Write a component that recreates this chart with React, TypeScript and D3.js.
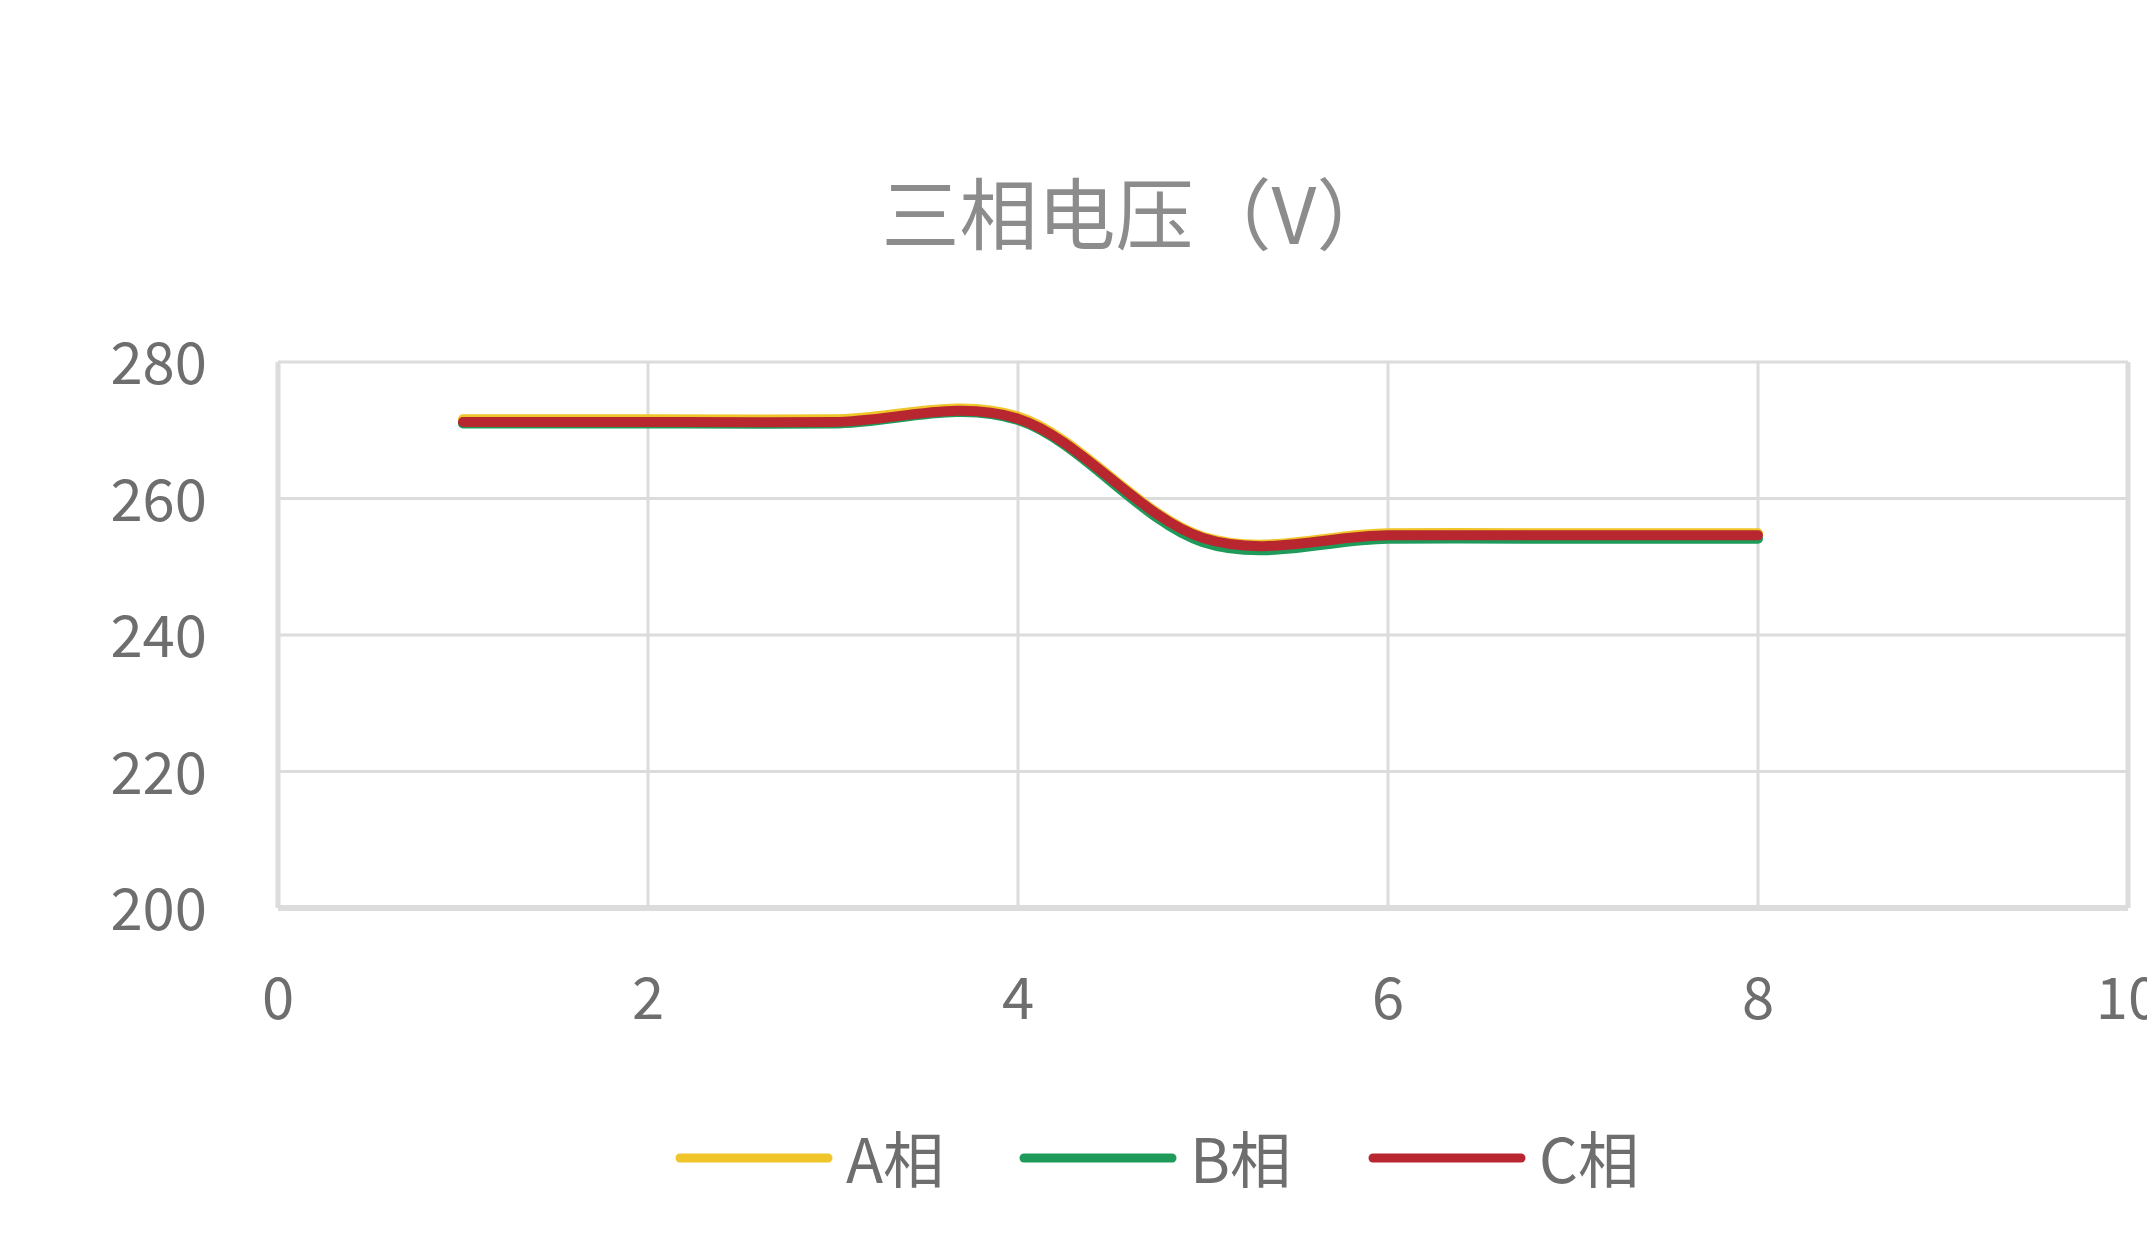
import React from "react";
import * as d3 from "d3";

const title = "三相电压（V）";
const xValues = [1, 2, 3, 4, 5, 6, 7, 8];
const seriesNames = ["A相", "B相", "C相"];
const seriesA = [271.6, 271.6, 271.6, 272.0, 254.4, 254.9, 254.9, 254.9];
const seriesB = [271.0, 271.0, 271.0, 271.5, 253.6, 254.1, 254.1, 254.1];
const seriesC = [271.2, 271.2, 271.2, 271.7, 254.2, 254.6, 254.6, 254.6];
const colors = ["#EFC52A", "#1E9A5A", "#B8262F"];
const xTicks = [0, 2, 4, 6, 8, 10];
const yTicks = [200, 220, 240, 260, 280];

const W = 2147;
const H = 1241;
const FONT = '"Noto Sans CJK SC", "Noto Sans", sans-serif';

export default function App() {
  const x = d3.scaleLinear().domain([0, 10]).range([278, 2128]);
  const y = d3.scaleLinear().domain([200, 280]).range([908, 362]);
  const line = d3
    .line<number>()
    .x((_, i) => x(xValues[i]))
    .y((d) => y(d))
    .curve(d3.curveCardinal.tension(0));
  const all = [seriesA, seriesB, seriesC];
  const legendX = [680, 1024, 1373];
  return (
    <svg
      width={W}
      height={H}
      style={{ position: "absolute", left: 0, top: 0, background: "#fff" }}
      fontFamily={FONT}
    >
      <rect x={0} y={0} width={W} height={H} fill="#fff" />
      <text x={1138} y={210} textAnchor="middle" dominantBaseline="central" fontSize={78} fill="#8c8c8c">
        {title}
      </text>
      {yTicks.map((t) => (
        <line key={"gy" + t} x1={x(0)} x2={x(10)} y1={y(t)} y2={y(t)} stroke="#dcdcdc" strokeWidth={t === 200 ? 6 : 3} />
      ))}
      {xTicks.map((t) => (
        <line key={"gx" + t} x1={x(t)} x2={x(t)} y1={y(280)} y2={y(200)} stroke="#dcdcdc" strokeWidth={t === 0 || t === 10 ? 5 : 3} />
      ))}
      {yTicks.map((t) => (
        <text key={"ty" + t} x={207} y={y(t) - 3} textAnchor="end" dominantBaseline="central" fontSize={58} fill="#6e6e6e">
          {t}
        </text>
      ))}
      {xTicks.map((t) => (
        <text key={"tx" + t} x={x(t)} y={994} textAnchor="middle" dominantBaseline="central" fontSize={58} fill="#6e6e6e">
          {t}
        </text>
      ))}
      {all.map((s, i) => (
        <path key={"s" + i} d={line(s) || ""} fill="none" stroke={colors[i]} strokeWidth={10} strokeLinecap="round" />
      ))}
      {seriesNames.map((n, i) => (
        <g key={"lg" + i}>
          <line x1={legendX[i]} x2={legendX[i] + 148} y1={1158} y2={1158} stroke={colors[i]} strokeWidth={9} strokeLinecap="round" />
          <text x={legendX[i] + 166} y={1156} dominantBaseline="central" fontSize={61} fill="#6e6e6e">
            {n}
          </text>
        </g>
      ))}
    </svg>
  );
}
